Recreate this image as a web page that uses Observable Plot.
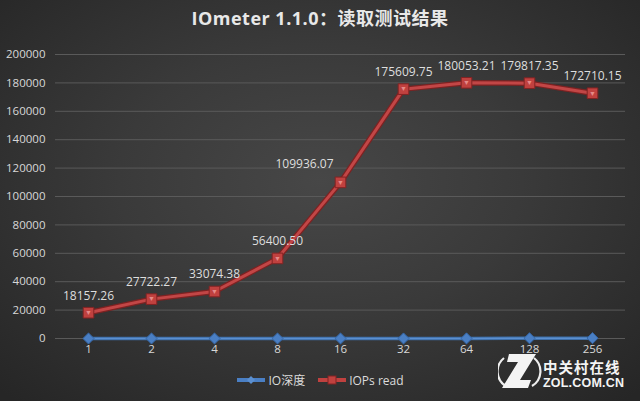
<!DOCTYPE html>
<html><head><meta charset="utf-8">
<script src="https://cdn.jsdelivr.net/npm/d3@7"></script>
<script src="https://cdn.jsdelivr.net/npm/@observablehq/plot@0.6"></script>
<style>
html,body{margin:0;padding:0;}
#wrap{position:relative;width:640px;height:401px;overflow:hidden;
 background:radial-gradient(ellipse 70% 75% at 50% 45%, #474747 0%, #3a3a3a 45%, #262626 100%);
 font-family:"Open Sans","Noto Sans CJK SC",sans-serif;color:#e0e0e0;}
#title{height:36px;line-height:36px;text-align:center;font-size:18px;font-weight:bold;color:#e8e8e8;letter-spacing:0.5px;font-family:"Open Sans","Noto Sans CJK SC",sans-serif;}
#legend{position:absolute;left:0;top:369px;width:640px;height:22px;display:flex;justify-content:center;align-items:center;font-size:12px;color:#dcdcdc;}
#legend .item{display:flex;align-items:center;margin:0 6px;}
#legend svg{margin-right:2px;}
#logo{position:absolute;left:498px;top:350px;width:142px;height:51px;}
#logo .cn{position:absolute;left:45px;top:9px;height:15px;line-height:15px;font-family:"Noto Sans CJK SC",sans-serif;font-weight:bold;font-size:14.5px;color:#f4f4f4;letter-spacing:1px;}
#logo .en{position:absolute;left:45px;top:28px;height:10px;line-height:10px;font-family:"Liberation Sans",sans-serif;font-weight:bold;font-size:12.5px;color:#f4f4f4;letter-spacing:0.2px;}
#logo svg{position:absolute;left:0;top:0;}
</style></head>
<body><div id="wrap">
<div id="title">IOmeter 1.1.0：读取测试结果</div>
<div id="chart"></div>
<div id="legend"></div>
<div id="logo"><svg width="44" height="42"><path d="M6 8 A 17 17 0 0 0 8 36" fill="none" stroke="#eee" stroke-width="2.2"/><path d="M36 8 A 17 17 0 0 1 34 36" fill="none" stroke="#eee" stroke-width="2.2"/><path d="M11 4 L38 4 L22 30 L33 30 L30 38 L4 38 L20 12 L9 12 Z" fill="#f4f4f4"/></svg><div class="cn">中关村在线</div><div class="en">ZOL.COM.CN</div></div>
</div>
<script>
const depths = ["1","2","4","8","16","32","64","128","256"];
const ioDepth = [1,2,4,8,16,32,64,128,256];
const iopsRead = [18157.26,27722.27,33074.38,56400.50,109936.07,175609.75,180053.21,179817.35,172710.15];
const yTicks = [0,20000,40000,60000,80000,100000,120000,140000,160000,180000,200000];

const blue = depths.map((d,i)=>({x:d, y:ioDepth[i], s:"IO深度"}));
const red = depths.map((d,i)=>({x:d, y:iopsRead[i], s:"IOPs read", i}));
const fmt = d3.format(".2f");

const chart = Plot.plot({
  width:640, height:330,
  marginLeft:55, marginRight:15, marginTop:18, marginBottom:28,
  style:{background:"transparent", color:"#d8d8d8", fontFamily:"'Open Sans','Noto Sans',sans-serif", fontSize:"11.5px"},
  x:{type:"point", domain:depths, padding:0.5, label:null},
  y:{domain:[0,200000], label:null},
  marks:[
    Plot.ruleY(yTicks,{stroke:"#5a5a5a", strokeWidth:1}),
    Plot.axisX({tickSize:0, tickPadding:6, fill:"#d8d8d8"}),
    Plot.axisY({ticks:yTicks, tickSize:0, tickPadding:10, tickFormat:d=>String(d), fill:"#d8d8d8"}),
    Plot.line(blue,{x:"x",y:"y",stroke:"#3d6ea8",strokeWidth:3.5}),
    Plot.line(blue,{x:"x",y:"y",stroke:"#5b8fd0",strokeWidth:1.5}),
    Plot.dot(blue,{x:"x",y:"y",symbol:"diamond2",r:5,fill:"#4a7fc4",stroke:"#3466a6",strokeWidth:1}),
    Plot.line(red,{x:"x",y:"y",stroke:"#7d2222",strokeWidth:5.5}),
    Plot.line(red,{x:"x",y:"y",stroke:"#c24646",strokeWidth:3}),
    Plot.dot(red,{x:"x",y:"y",symbol:"square",r:6,fill:"#c0413f",stroke:"#822323",strokeWidth:1}),
    Plot.text(red,{x:"x",y:"y",text:()=>"▼",fill:"#e58a88",fontSize:7}),
    Plot.text(red.filter(d=>d.i!==4),{x:"x",y:"y",text:d=>fmt(d.y),fill:"#dedede",fontSize:12,dy:-17}),
    Plot.text(red.filter(d=>d.i===4),{x:"x",y:"y",text:d=>fmt(d.y),fill:"#dedede",fontSize:12,dy:-18,dx:-36})
  ]
});
document.getElementById("chart").appendChild(chart);

const leg = document.getElementById("legend");
leg.innerHTML = `
<div class="item"><svg width="30" height="10"><line x1="1" y1="5" x2="29" y2="5" stroke="#4a7fc4" stroke-width="4"/><path d="M15 1 L19 5 L15 9 L11 5 Z" fill="#5b8fd0"/></svg><span>IO深度</span></div>
<div class="item"><svg width="30" height="10"><line x1="1" y1="5" x2="29" y2="5" stroke="#c0413f" stroke-width="4"/><rect x="11" y="1" width="8" height="8" fill="#c0413f" stroke="#822323"/></svg><span>IOPs read</span></div>`;
</script>
</body></html>
